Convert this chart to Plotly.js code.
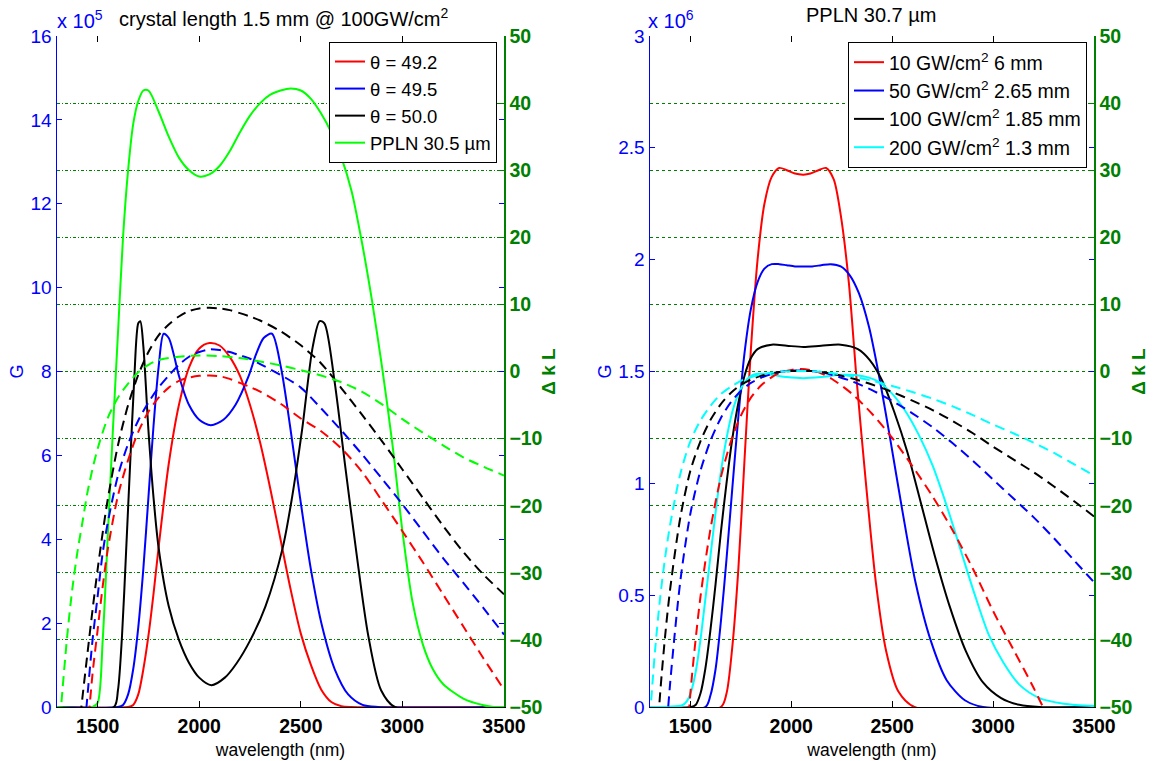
<!DOCTYPE html>
<html>
<head>
<meta charset="utf-8">
<script src="https://cdn.plot.ly/plotly-3.0.1.min.js"></script>
<style>html,body{margin:0;padding:0;background:#fff;}#chart{width:1159px;height:761px;}</style>
</head>
<body>
<div id="chart"></div>
<script>
// ---------------- LEFT PANEL DATA (G in 1e5, ΔkL) ----------------
var lamL_red = [1300,1650,1675,1700,1725,1750,1775,1800,1850,1900,1950,2000,2050,2100,2150,2200,2250,2300,2350,2400,2450,2500,2550,2600,2650,2700,2750,3500];
var GL_red   = [0,0,0.05,0.3,0.9,1.7,2.7,3.8,5.8,7.2,8.1,8.55,8.68,8.62,8.35,7.9,7.2,6.3,5.2,4.0,2.8,1.75,1.0,0.42,0.12,0.02,0,0];

var lamL_blue = [1300,1600,1625,1650,1675,1700,1725,1750,1775,1800,1825,1850,1875,1900,1950,2000,2057,2119,2178,2244,2279,2317,2358,2402,2447,2496,2549,2606,2667,2733,2804,2880,3500];
var GL_blue   = [0,0,0.05,0.3,0.9,1.9,3.3,5.0,6.7,8.1,8.9,8.8,8.4,7.9,7.2,6.85,6.72,6.85,7.2,7.9,8.4,8.8,8.9,8.1,6.7,5.0,3.3,1.9,0.9,0.3,0.05,0,0];

var lamL_black = [1300,1580,1600,1620,1640,1660,1680,1700,1710,1725,1750,1775,1800,1850,1900,1950,2000,2060,2126,2185,2252,2326,2411,2457,2506,2559,2593,2616,2665,2717,2773,2832,2895,2963,3500];
var GL_black   = [0,0,0.4,1.7,3.7,5.8,7.8,9.15,9.2,8.6,6.6,5.0,3.8,2.4,1.6,1.05,0.7,0.52,0.7,1.05,1.6,2.4,3.8,5.0,6.6,8.6,9.2,9.15,7.8,5.8,3.7,1.7,0.4,0,0];

var lamL_green = [1300,1475,1500,1525,1550,1575,1600,1625,1650,1675,1700,1725,1750,1800,1850,1900,1950,2000,2050,2100,2150,2200,2250,2300,2350,2400,2450,2500,2550,2600,2650,2700,2750,2800,2850,2900,2950,3000,3050,3100,3150,3200,3300,3400,3450,3500];
var GL_green   = [0,0,0.1,1.6,4.1,6.6,8.9,11.2,12.8,13.9,14.45,14.7,14.7,14.2,13.6,13.1,12.8,12.65,12.7,12.9,13.25,13.7,14.1,14.4,14.6,14.7,14.75,14.7,14.5,14.15,13.7,13.1,12.3,11.1,9.7,8.1,6.3,4.2,2.5,1.5,0.9,0.55,0.2,0.04,0,0];

var lamL_dred = [1440,1460,1475,1500,1525,1550,1600,1650,1700,1750,1800,1850,1900,1950,2000,2050,2100,2150,2200,2250,2300,2400,2500,2600,2700,2800,2900,3000,3100,3200,3300,3400,3500];
var dkL_red   = [-56,-50,-45,-38.5,-32,-26.5,-18.5,-13.2,-9.0,-6.0,-3.9,-2.4,-1.4,-0.9,-0.65,-0.6,-0.7,-1.1,-1.7,-2.3,-3.0,-4.8,-7.0,-8.9,-11.5,-14.9,-19.3,-23.8,-28.4,-33.2,-38,-42.8,-47.4];

var lamL_dblue = [1430,1445,1475,1500,1525,1550,1600,1650,1700,1750,1800,1850,1900,1950,2000,2050,2100,2150,2200,2250,2300,2400,2500,2600,2700,2800,2900,3000,3100,3200,3300,3400,3500];
var dkL_blue   = [-55,-50,-40,-33.5,-27,-22.5,-15.5,-10.8,-7.3,-4.6,-2.4,-0.6,1.0,2.2,2.9,3.3,3.2,2.9,2.4,1.9,1.1,-0.5,-2.4,-5.5,-8.8,-12.3,-16.0,-19.8,-23.8,-27.8,-31.5,-35.3,-39.2];

var lamL_dblack = [1400,1420,1450,1475,1500,1525,1550,1600,1650,1700,1750,1800,1850,1900,1950,2000,2050,2100,2150,2200,2250,2300,2400,2500,2600,2700,2800,2900,3000,3100,3200,3300,3400,3500];
var dkL_black   = [-56,-50,-42,-35.5,-29.5,-24,-19,-11,-5,-0.5,2.9,5.4,7.0,8.2,9.0,9.4,9.5,9.4,9.15,8.7,8.2,7.6,6.0,3.9,1.2,-2.5,-6.4,-10.4,-14.6,-18.8,-23.0,-26.9,-30.3,-33.2];

var lamL_dgreen = [1310,1320,1350,1375,1400,1425,1450,1475,1500,1550,1600,1650,1700,1750,1800,1900,2000,2100,2200,2300,2400,2500,2600,2700,2800,2900,3000,3100,3200,3300,3400,3500];
var dkL_green   = [-54,-50,-39.5,-32.5,-27,-22.5,-18,-14.5,-11.5,-6.9,-3.9,-1.8,-0.1,1.0,1.7,2.2,2.4,2.3,2.0,1.5,0.9,0.2,-0.6,-1.6,-3.0,-4.9,-7.1,-9.1,-11.0,-12.8,-14.2,-15.5];

// ---------------- RIGHT PANEL DATA (G in 1e6, ΔkL) ----------------
var lamR_red = [1300,1651,1679,1708,1738,1768,1800,1833,1867,1903,1940,1978,2018,2060,2095,2135,2172,2210,2245,2285,2325,2370,2420,2470,2530,2610,3500];
var GR_red   = [0,0,0.06,0.27,0.62,1.1,1.6,2.0,2.25,2.37,2.41,2.40,2.385,2.38,2.385,2.40,2.41,2.36,2.2,1.9,1.45,1.0,0.55,0.25,0.07,0,0];

var lamR_blue = [1300,1574,1599,1625,1651,1679,1708,1738,1768,1800,1833,1867,1903,1940,1978,2018,2060,2103,2148,2195,2245,2290,2335,2385,2435,2490,2550,2615,2690,2770,2860,2950,3500];
var GR_blue   = [0,0,0.05,0.17,0.38,0.66,0.98,1.3,1.58,1.78,1.9,1.96,1.98,1.98,1.975,1.97,1.97,1.97,1.975,1.98,1.97,1.93,1.85,1.7,1.48,1.2,0.88,0.56,0.3,0.12,0.03,0,0];

var lamR_black = [1300,1504,1527,1550,1574,1599,1625,1651,1679,1708,1738,1768,1800,1833,1903,1978,2060,2148,2245,2330,2390,2450,2510,2575,2640,2710,2785,2865,2950,3040,3130,3230,3500];
var GR_black   = [0,0,0.01,0.06,0.17,0.34,0.55,0.78,1.0,1.2,1.36,1.48,1.56,1.6,1.62,1.615,1.61,1.615,1.62,1.6,1.55,1.46,1.32,1.14,0.92,0.68,0.45,0.25,0.11,0.04,0.01,0,0];

var lamR_cyan = [1300,1460,1482,1504,1527,1550,1574,1599,1625,1651,1679,1708,1738,1768,1800,1833,1903,1978,2060,2148,2245,2350,2420,2490,2560,2630,2700,2770,2840,2910,2980,3050,3130,3230,3350,3500];
var GR_cyan   = [0,0.008,0.025,0.07,0.16,0.3,0.48,0.67,0.87,1.05,1.2,1.32,1.4,1.45,1.48,1.49,1.485,1.475,1.47,1.475,1.485,1.48,1.46,1.41,1.33,1.22,1.08,0.9,0.7,0.5,0.32,0.2,0.1,0.04,0.015,0.004];

var lamR_d = [1300,1325,1350,1375,1400,1450,1500,1550,1600,1650,1700,1750,1800,1850,1900,1950,2000,2050,2100,2150,2200,2300,2400,2500,2600,2700,2800,2900,3000,3100,3200,3300,3400,3500];
var dkR_red   = [-237,-192,-156,-128,-105,-70.8,-48,-33.6,-23.4,-15.9,-10.5,-6.6,-3.9,-2.1,-0.9,-0.12,0.24,0.36,0.18,-0.3,-1.08,-3.3,-6.3,-9.9,-14.1,-18.6,-23.7,-29.4,-35.7,-41.4,-47.1,-53.4,-60.6,-68.4];
var dkR_blue  = [-104.7,-84.8,-68.9,-56.4,-46.4,-31.3,-21.2,-14.8,-10.3,-7.0,-4.6,-2.9,-1.7,-0.93,-0.4,-0.05,0.11,0.16,0.08,-0.13,-0.48,-1.46,-2.78,-4.37,-6.23,-8.3,-10.7,-13.3,-16.1,-18.9,-21.7,-24.8,-28.1,-31.4];
var dkR_black = [-73.1,-59.2,-48.1,-39.4,-32.4,-21.8,-14.8,-10.4,-7.2,-4.9,-3.2,-2.0,-1.2,-0.65,-0.28,-0.04,0.07,0.11,0.06,-0.09,-0.33,-1.02,-1.94,-3.05,-4.35,-5.75,-7.4,-9.2,-11.2,-13.1,-15.0,-17.1,-19.3,-21.6];
var dkR_cyan  = [-51.4,-41.6,-33.8,-27.7,-22.8,-15.3,-10.4,-7.3,-5.1,-3.4,-2.3,-1.4,-0.85,-0.46,-0.2,-0.03,0.05,0.08,0.04,-0.07,-0.23,-0.72,-1.37,-2.15,-3.06,-4.05,-5.2,-6.5,-7.9,-9.2,-10.6,-12.1,-13.8,-15.5];

// ---------------- TICKS / LABELS ----------------
var xTicks = [1500,2000,2500,3000,3500];
var gLTicks = [0,2,4,6,8,10,12,14,16];
var gRTicks = [0,0.5,1,1.5,2,2.5,3];
var gRText = ['0','0.5','1','1.5','2','2.5','3'];
var dkTicks = [-50,-40,-30,-20,-10,0,10,20,30,40,50];
var legL = ['\u03b8 = 49.2','\u03b8 = 49.5','\u03b8 = 50.0','PPLN 30.5 \u00b5m'];
var legR = ['10 GW/cm<sup>2</sup> 6 mm','50 GW/cm<sup>2</sup> 2.65 mm','100 GW/cm<sup>2</sup> 1.85 mm','200 GW/cm<sup>2</sup> 1.3 mm'];

var FONT = 'Liberation Sans, Arial, Helvetica, sans-serif';
var GREEN = '#008000';
var DASH = '10px,6px';

function solid(x, y, color, name, xa, ya, leg) {
  return {x: x, y: y, type: 'scatter', mode: 'lines', name: name, xaxis: xa, yaxis: ya, legend: leg,
          line: {color: color, width: 2, shape: 'spline', smoothing: 0.8}, hoverinfo: 'skip'};
}
function dashed(x, y, color, xa, ya) {
  return {x: x, y: y, type: 'scatter', mode: 'lines', showlegend: false, xaxis: xa, yaxis: ya,
          line: {color: color, width: 2, dash: DASH, shape: 'spline', smoothing: 0.8}, hoverinfo: 'skip'};
}
function dummy(xa, ya) {
  return {x: [1000], y: [-100], type: 'scatter', mode: 'markers', marker: {opacity: 0}, showlegend: false,
          xaxis: xa, yaxis: ya, hoverinfo: 'skip'};
}

var traces = [
  dashed(lamL_dred, dkL_red, '#ff0000', 'x', 'y2'),
  dashed(lamL_dblue, dkL_blue, '#0000ff', 'x', 'y2'),
  dashed(lamL_dblack, dkL_black, '#000000', 'x', 'y2'),
  dashed(lamL_dgreen, dkL_green, '#00ff00', 'x', 'y2'),
  solid(lamL_red, GL_red, '#ff0000', legL[0], 'x', 'y', 'legend'),
  solid(lamL_blue, GL_blue, '#0000ff', legL[1], 'x', 'y', 'legend'),
  solid(lamL_black, GL_black, '#000000', legL[2], 'x', 'y', 'legend'),
  solid(lamL_green, GL_green, '#00ff00', legL[3], 'x', 'y', 'legend'),

  dashed(lamR_d, dkR_red, '#ff0000', 'x2', 'y5'),
  dashed(lamR_d, dkR_blue, '#0000ff', 'x2', 'y5'),
  dashed(lamR_d, dkR_black, '#000000', 'x2', 'y5'),
  dashed(lamR_d, dkR_cyan, '#00ffff', 'x2', 'y5'),
  solid(lamR_red, GR_red, '#ff0000', legR[0], 'x2', 'y4', 'legend2'),
  solid(lamR_blue, GR_blue, '#0000ff', legR[1], 'x2', 'y4', 'legend2'),
  solid(lamR_black, GR_black, '#000000', legR[2], 'x2', 'y4', 'legend2'),
  solid(lamR_cyan, GR_cyan, '#00ffff', legR[3], 'x2', 'y4', 'legend2'),

  dummy('x3', 'y3'),
  dummy('x4', 'y6')
];

var W = 1159, H = 761;
var xdomL = [57 / W, 504 / W], xdomR = [650 / W, 1094 / W];
var ydom = [1 - 707 / H, 1 - 36 / H];

function xAx(dom, anchor) {
  return {domain: dom, anchor: anchor, range: [1300, 3500], tickvals: xTicks, ticks: 'inside', ticklen: 6,
          tickcolor: '#000', tickwidth: 1, showline: true, linecolor: '#000', linewidth: 1, showgrid: false, zeroline: false,
          tickfont: {family: FONT, size: 19.5, color: '#000', weight: 'bold'}, ticklabelstandoff: 2,
          title: {text: 'wavelength (nm)', font: {family: FONT, size: 17.5, color: '#000'}, standoff: 7}};
}
function xDummy(over, anchor) {
  return {overlaying: over, anchor: anchor, side: 'top', range: [1300, 3500], tickvals: xTicks, ticks: 'inside',
          ticklen: 6, tickcolor: '#000', showticklabels: false, showline: false, showgrid: false, zeroline: false};
}
function gAx(anchor, range, tv, tt) {
  return {domain: ydom, anchor: anchor, range: range, tickvals: tv, ticktext: tt, ticks: 'inside', ticklen: 5,
          tickcolor: '#0000ff', showline: true, linecolor: '#0000ff', linewidth: 1.5, showgrid: false, zeroline: false,
          tickfont: {family: FONT, size: 19, color: '#0000ff'},
          title: {text: 'G', font: {family: FONT, size: 18, color: '#0000ff'}, standoff: 2}};
}
function gDummy(over, anchor, range, tv) {
  return {overlaying: over, anchor: anchor, side: 'right', range: range, tickvals: tv, ticks: 'inside', ticklen: 5,
          tickcolor: '#0000ff', showticklabels: false, showline: false, showgrid: false, zeroline: false};
}
function dkAx(over, anchor, gd) {
  return {overlaying: over, anchor: anchor, side: 'right', range: [-50, 50], tickvals: dkTicks, ticks: 'inside', ticklen: 5,
          tickcolor: GREEN, showline: true, linecolor: GREEN, linewidth: 1.5, showgrid: true, gridcolor: GREEN, gridwidth: 1,
          griddash: gd, zeroline: false,
          tickfont: {family: FONT, size: 19.5, color: GREEN, weight: 'bold'},
          title: {text: '\u0394 k L', font: {family: FONT, size: 19, color: GREEN, weight: 'bold'}, standoff: 0}};
}

var layout = {
  width: W, height: H, margin: {l: 0, r: 0, t: 0, b: 0}, paper_bgcolor: '#fff', plot_bgcolor: '#fff',
  showlegend: true,
  xaxis: xAx(xdomL, 'y'),
  yaxis: gAx('x', [0, 16], gLTicks, gLTicks.map(String)),
  yaxis2: dkAx('y', 'x', '3px,2px,1px,2px'),
  xaxis3: xDummy('x', 'y'),
  yaxis3: gDummy('y', 'x', [0, 16], gLTicks),
  xaxis2: xAx(xdomR, 'y4'),
  yaxis4: gAx('x2', [0, 3], gRTicks, gRText),
  yaxis5: dkAx('y4', 'x2', 'dot'),
  xaxis4: xDummy('x2', 'y4'),
  yaxis6: gDummy('y4', 'x2', [0, 3], gRTicks),
  legend: {x: 497 / W, xanchor: 'right', y: 1 - 42 / H, yanchor: 'top', bgcolor: '#fff', bordercolor: '#000', borderwidth: 1,
           font: {family: FONT, size: 18.5, color: '#000'}},
  legend2: {x: 1087 / W, xanchor: 'right', y: 1 - 42 / H, yanchor: 'top', bgcolor: '#fff', bordercolor: '#000', borderwidth: 1,
           font: {family: FONT, size: 19.5, color: '#000'}},
  annotations: [
    {text: 'crystal length 1.5 mm @ 100GW/cm<sup>2</sup>', xref: 'paper', yref: 'paper', x: 284 / W, y: 1 - 18 / H,
     xanchor: 'center', yanchor: 'middle', showarrow: false, font: {family: FONT, size: 20, color: '#000'}},
    {text: 'PPLN 30.7 \u00b5m', xref: 'paper', yref: 'paper', x: 871 / W, y: 1 - 15 / H,
     xanchor: 'center', yanchor: 'middle', showarrow: false, font: {family: FONT, size: 20, color: '#000'}},
    {text: 'x 10<sup>5</sup>', xref: 'paper', yref: 'paper', x: 55 / W, y: 1 - 20 / H,
     xanchor: 'left', yanchor: 'middle', showarrow: false, font: {family: FONT, size: 20, color: '#0000ff'}},
    {text: 'x 10<sup>6</sup>', xref: 'paper', yref: 'paper', x: 646 / W, y: 1 - 20 / H,
     xanchor: 'left', yanchor: 'middle', showarrow: false, font: {family: FONT, size: 20, color: '#0000ff'}}
  ]
};

Plotly.newPlot('chart', traces, layout, {displayModeBar: false, staticPlot: true});
</script>
</body>
</html>
